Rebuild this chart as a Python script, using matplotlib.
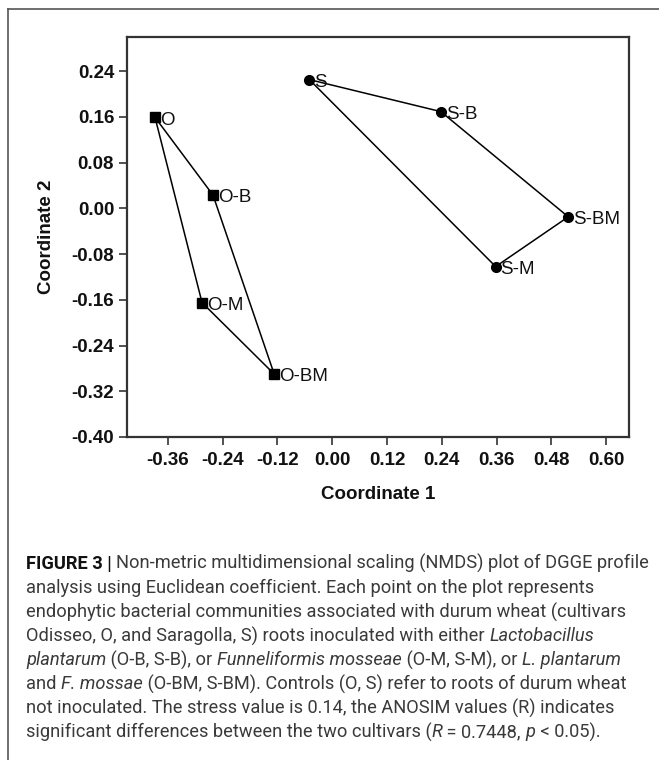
import matplotlib
matplotlib.use("Agg")
import matplotlib.pyplot as plt
from matplotlib.font_manager import FontProperties
from matplotlib.lines import Line2D

# NMDS coordinates
o_labels = ["O", "O-B", "O-M", "O-BM"]
o_x = [-0.388, -0.261, -0.285, -0.127]
o_y = [0.159, 0.023, -0.165, -0.290]

s_labels = ["S", "S-B", "S-M", "S-BM"]
s_x = [-0.050, 0.238, 0.358, 0.517]
s_y = [0.225, 0.169, -0.102, -0.015]

# order of the hull around each group (indices into the lists above)
o_hull = [0, 1, 3, 2, 0]
s_hull = [0, 1, 3, 2, 0]

x_ticks = [-0.36, -0.24, -0.12, 0.00, 0.12, 0.24, 0.36, 0.48, 0.60]
y_ticks = [0.24, 0.16, 0.08, 0.00, -0.08, -0.16, -0.24, -0.32, -0.40]

caption_lines = [
    [("FIGURE 3 | ", "bold"), ("Non-metric multidimensional scaling (NMDS) plot of DGGE profile", "normal")],
    [("analysis using Euclidean coefficient. Each point on the plot represents", "normal")],
    [("endophytic bacterial communities associated with durum wheat (cultivars", "normal")],
    [("Odisseo, O, and Saragolla, S) roots inoculated with either ", "normal"), ("Lactobacillus", "italic")],
    [("plantarum", "italic"), (" (O-B, S-B), or ", "normal"), ("Funneliformis mosseae", "italic"),
     (" (O-M, S-M), or ", "normal"), ("L. plantarum", "italic")],
    [("and ", "normal"), ("F. mossae", "italic"), (" (O-BM, S-BM). Controls (O, S) refer to roots of durum wheat", "normal")],
    [("not inoculated. The stress value is 0.14, the ANOSIM values (R) indicates", "normal")],
    [("significant differences between the two cultivars (", "normal"), ("R", "italic"),
     (" = 0.7448, ", "normal"), ("p", "italic"), (" < 0.05).", "normal")],
]

W, H = 659, 760
fig = plt.figure(figsize=(W / 100, H / 100), dpi=100)
plt.rcParams['font.family'] = ['Liberation Sans', 'DejaVu Sans']

# outer frame of the figure panel
fig.add_artist(Line2D([8 / W, 1.0], [1 - 9 / H, 1 - 9 / H], color='#555555', lw=1.2))
fig.add_artist(Line2D([8 / W, 8 / W], [0.0, 1 - 9 / H], color='#555555', lw=1.2))

ax = fig.add_axes([126.7 / W, 1 - 437 / H, (629 - 126.7) / W, (437 - 36.7) / H])

for xs, ys, hull, labels, mk in [(o_x, o_y, o_hull, o_labels, 's'),
                                 (s_x, s_y, s_hull, s_labels, 'o')]:
    ax.plot([xs[i] for i in hull], [ys[i] for i in hull], color='black', lw=1.1, zorder=2)
    ax.plot(xs, ys, linestyle='none', marker=mk, color='black', markersize=7, zorder=3)
    for lab, x, y in zip(labels, xs, ys):
        ax.annotate(lab, (x, y), xytext=(3.5, -2), textcoords='offset points',
                    ha='left', va='center', fontsize=13.5, color='#111111')

ax.set_xlim(-0.45, 0.65)
ax.set_ylim(-0.40, 0.30)
ax.set_xticks(x_ticks)
ax.set_xticklabels([f"{v:.2f}" for v in x_ticks])
ax.set_yticks(y_ticks)
ax.set_yticklabels([f"{v:.2f}" for v in y_ticks])
ax.tick_params(direction='out', length=6, width=1.2, color='#333333', labelsize=13.5)
ax.tick_params(axis='x', pad=5)
ax.tick_params(axis='y', pad=3)
for lab in ax.get_xticklabels() + ax.get_yticklabels():
    lab.set_fontweight('bold')
    lab.set_color('#111111')
for sp in ax.spines.values():
    sp.set_linewidth(1.6)
    sp.set_color('#333333')

ax.set_xlabel("Coordinate 1", fontsize=13.5, fontweight='bold', va='center', color='#111111')
ax.set_ylabel("Coordinate 2", fontsize=13.5, fontweight='bold', va='center', color='#111111')
ax.xaxis.set_label_coords(0.5, (437 - 495) / 400.3)
ax.yaxis.set_label_coords((46.7 - 126.7) / 502.3, 0.5)

# caption, composed segment by segment so italics and bold can be mixed
renderer = fig.canvas.get_renderer()
cap_family = ['Roboto', 'Liberation Sans']


def seg_width(s, prop):
    w1 = renderer.get_text_width_height_descent("|" + s + "|", prop, ismath=False)[0]
    w0 = renderer.get_text_width_height_descent("||", prop, ismath=False)[0]
    return w1 - w0


def make_prop(style, size):
    if style == "bold":
        return FontProperties(family=cap_family, weight='bold', size=size)
    if style == "italic":
        return FontProperties(family=cap_family, style='italic', size=size)
    return FontProperties(family=cap_family, size=size)


# fit the first line to the width it has in the reference
base = 12.0
w_line1 = sum(seg_width(s, make_prop(st, base)) for s, st in caption_lines[0])
cap_size = base * 619.0 / w_line1

x0 = 26.0
y_first = 561.7
line_gap = 24.1
for i, line in enumerate(caption_lines):
    xpx = x0
    ypx = y_first + i * line_gap
    for s, st in line:
        prop = make_prop(st, cap_size)
        color = '#111111' if st == "bold" else '#3a3a3a'
        fig.text(xpx / W, 1 - ypx / H, s, fontproperties=prop, color=color,
                 ha='left', va='center_baseline')
        xpx += seg_width(s, prop)

fig.savefig("out.png", dpi=100)
